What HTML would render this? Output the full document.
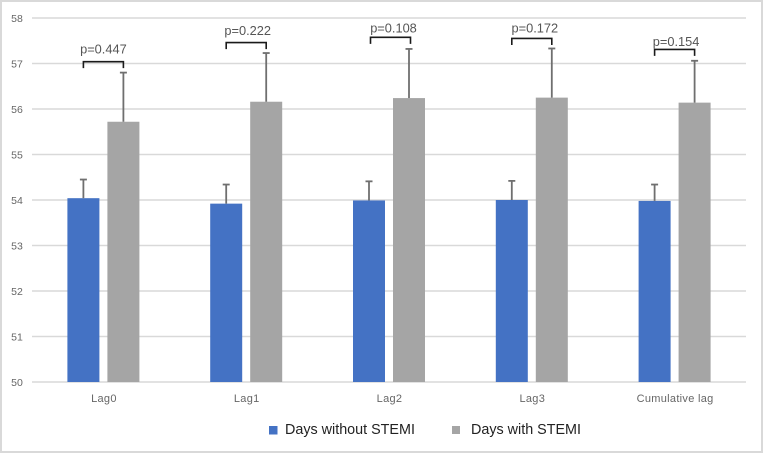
<!DOCTYPE html>
<html lang="en">
<head>
<meta charset="utf-8">
<title>Days with and without STEMI by lag</title>
<style>
  html, body { margin: 0; padding: 0; background: #fff; }
  svg { display: block; font-family: "Liberation Sans", sans-serif; }
</style>
</head>
<body>
<svg id="chart" xmlns="http://www.w3.org/2000/svg" width="764" height="454" viewBox="0 0 764 454">
  <rect x="1" y="1" width="761" height="451" fill="#ffffff" stroke="#d9d9d9" stroke-width="2"/>
  <g id="grid"></g>
  <g id="yticks"></g>
  <g id="bars"></g>
  <g id="errors"></g>
  <g id="xticks"></g>
  <g id="notes"></g>
  <g>
    <g>
      <rect x="269" y="426" width="8.500" height="8.500" fill="#4472c4"/>
      <text x="285" y="434" font-size="14.350" fill="#222222">Days without STEMI</text>
    </g>
    <g>
      <rect x="452" y="426" width="8" height="8" fill="#a5a5a5"/>
      <text x="471" y="434" font-size="14.350" fill="#222222">Days with STEMI</text>
    </g>
  </g>
</svg>
<script>
const categories = ['Lag0', 'Lag1', 'Lag2', 'Lag3', 'Cumulative lag'];
const withoutStemi = [54.04, 53.92, 53.99, 54.0, 53.98];
const withStemi = [55.72, 56.16, 56.24, 56.25, 56.14];
const withoutStemiErrorTop = [54.45, 54.34, 54.41, 54.42, 54.34];
const withStemiErrorTop = [56.8, 57.23, 57.32, 57.33, 57.06];
const pLabels = ['p=0.447', 'p=0.222', 'p=0.108', 'p=0.172', 'p=0.154'];
const pBracketLevels = [57.04, 57.46, 57.575, 57.55, 57.31];
const yTicks = [50, 51, 52, 53, 54, 55, 56, 57, 58];

const NS = 'http://www.w3.org/2000/svg';
const plotLeft = 32, plotRight = 746, plotTop = 18, plotBottom = 382;
const yMin = 50, yMax = 58;
const barWidth = 32, barGap = 8;

function yScale(v) {
  return plotBottom - (v - yMin) / (yMax - yMin) * (plotBottom - plotTop);
}
function xCenter(i) {
  return plotLeft + (plotRight - plotLeft) * (i + 0.5) / categories.length;
}
function make(parent, tag, attrs, text) {
  const el = document.createElementNS(NS, tag);
  for (const k in attrs) el.setAttribute(k, attrs[k]);
  if (text !== undefined) el.textContent = text;
  document.getElementById(parent).appendChild(el);
  return el;
}

yTicks.forEach(function (t) {
  const line = make('grid', 'line', { x1: plotLeft, x2: plotRight, y1: yScale(t), y2: yScale(t), stroke: '#d9d9d9', 'stroke-width': 1.500 });
  
  
  const label = make('yticks', 'text', { x: 17, y: yScale(t) + 4, 'font-size': 10.500, 'text-anchor': 'middle', fill: '#666666' }, String(t));
  
  
});

function drawSeries(values, tops, color, offset, key) {
  values.forEach(function (v, i) {
    const cx = xCenter(i) + offset;
    const bar = make('bars', 'rect', { x: cx - barWidth / 2, y: yScale(v), width: barWidth, height: plotBottom - yScale(v), fill: color });
    
    
    const g = make('errors', 'g', { stroke: '#6f6f6f', 'stroke-width': 1.800 });
    
    
    const stem = document.createElementNS(NS, 'line');
    stem.setAttribute('x1', cx);
    stem.setAttribute('x2', cx);
    stem.setAttribute('y1', yScale(v));
    stem.setAttribute('y2', yScale(tops[i]));
    g.appendChild(stem);
    const cap = document.createElementNS(NS, 'line');
    cap.setAttribute('x1', cx - 3.500);
    cap.setAttribute('x2', cx + 3.500);
    cap.setAttribute('y1', yScale(tops[i]));
    cap.setAttribute('y2', yScale(tops[i]));
    g.appendChild(cap);
  });
}
drawSeries(withoutStemi, withoutStemiErrorTop, '#4472c4', -(barWidth + barGap) / 2, 'without-stemi');
drawSeries(withStemi, withStemiErrorTop, '#a5a5a5', (barWidth + barGap) / 2, 'with-stemi');

categories.forEach(function (c, i) {
  const label = make('xticks', 'text', { x: xCenter(i) + 0.500, y: 402, 'font-size': 11, 'letter-spacing': 0.300, 'text-anchor': 'middle', fill: '#666666' }, c);
  
  
});

pLabels.forEach(function (p, i) {
  // Hand-placed annotation nudges relative to each category centre and bracket.
  const bracketDx = i === 2 ? 1.500 : 0;
  const labelDx = [0, 1.500, 4.500, 3, 1.500][i];
  const labelGap = [8, 7.500, 4.600, 6, 3.600][i];
  const cx = xCenter(i) + bracketDx;
  const y = yScale(pBracketLevels[i]);
  const left = cx - (barWidth + barGap) / 2, right = cx + (barWidth + barGap) / 2;
  const bracket = make('notes', 'path', { d: 'M' + left + ' ' + (y + 6.500) + 'V' + y + 'H' + right + 'V' + (y + 6.500), fill: 'none', stroke: '#1a1a1a', 'stroke-width': 1.600 });
  
  
  const label = make('notes', 'text', { x: xCenter(i) + labelDx, y: y - labelGap, 'font-size': 12.800, 'text-anchor': 'middle', fill: '#555555' }, p);
  
  
});
</script>
</body>
</html>
